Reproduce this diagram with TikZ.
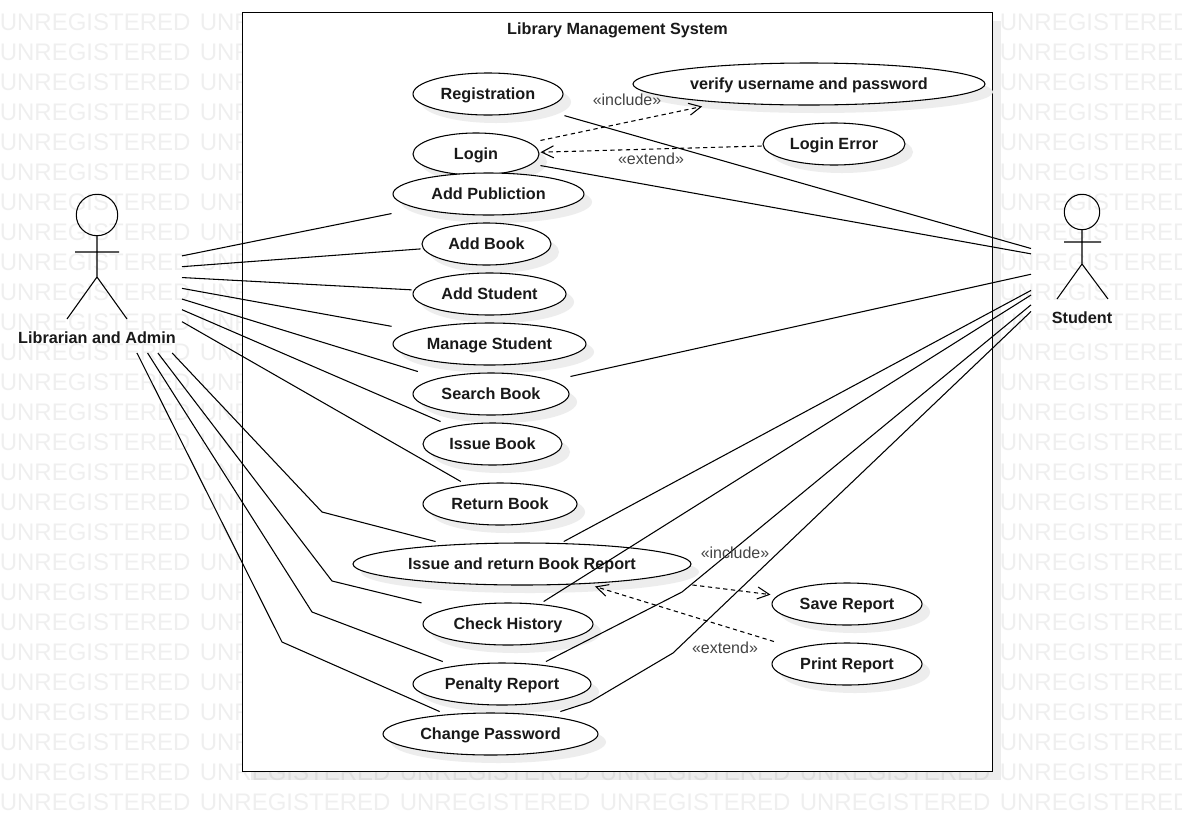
\documentclass[tikz,border=0pt]{standalone}
\usepackage{fontspec}
\setmainfont{Liberation Sans}
\usetikzlibrary{arrows.meta,shadows}
\definecolor{wmgray}{HTML}{EFEFEF}
\definecolor{shadegray}{HTML}{EDEDED}
\definecolor{lblgray}{HTML}{444444}
\makeatletter
% ellipse drawn inside a rectangular border: connectors stop at the bounding box
\pgfdeclareshape{usecase}{
  \inheritsavedanchors[from=rectangle]
  \inheritanchorborder[from=rectangle]
  \inheritanchor[from=rectangle]{center}
  \inheritanchor[from=rectangle]{north}
  \inheritanchor[from=rectangle]{south}
  \inheritanchor[from=rectangle]{west}
  \inheritanchor[from=rectangle]{east}
  \backgroundpath{
    \southwest \pgf@xa=\pgf@x \pgf@ya=\pgf@y
    \northeast \pgf@xb=\pgf@x \pgf@yb=\pgf@y
    \edef\ucA{\the\dimexpr(\pgf@xb-\pgf@xa)/2-1.1pt\relax}
    \edef\ucB{\the\dimexpr(\pgf@yb-\pgf@ya)/2-1.1pt\relax}
    \edef\ucX{\the\dimexpr(\pgf@xb+\pgf@xa)/2\relax}
    \edef\ucY{\the\dimexpr(\pgf@yb+\pgf@ya)/2\relax}
    \pgfpathellipse{\pgfqpoint{\ucX}{\ucY}}{\pgfqpoint{\ucA}{0pt}}{\pgfqpoint{0pt}{\ucB}}
  }
}
\makeatother
\tikzset{
  x=0.75pt,y=-0.75pt,
  wire/.style={line width=0.8pt,black},
  uc/.style 2 args={shape=usecase,draw=black,fill=white,line width=0.8pt,
    minimum width=#1*0.75pt,minimum height=#2*0.75pt,inner sep=0pt,outer sep=1.1pt,
    text height=10pt,text depth=2.5pt,
    font=\fontsize{12.15pt}{14pt}\selectfont\bfseries,text=black!90,
    general shadow={fill=shadegray,shadow xshift=6pt,shadow yshift=-6pt}},
  sysbox/.style={draw=black,fill=white,line width=0.8pt,minimum width=750*0.75pt,minimum height=759*0.75pt,
    inner sep=0pt,outer sep=0pt,general shadow={fill=black,fill opacity=0.07,shadow xshift=6pt,shadow yshift=-6pt}},
  actorbox/.style 2 args={minimum width=#1*0.75pt,minimum height=#2*0.75pt,inner sep=0pt,outer sep=0pt},
  name label/.style={font=\fontsize{12.15pt}{14pt}\selectfont\bfseries,text=black!90,inner sep=0pt,
    text height=10pt,text depth=2.5pt},
  rel label/.style={font=\fontsize{12pt}{14pt}\selectfont,text=lblgray,inner sep=0pt},
  dep/.style={line width=0.8pt,black,dash pattern=on 3.2pt off 2.6pt,
    -{Straight Barb[length=9pt,width=9pt,line width=0.8pt]}},
  wmark/.style={font=\fontsize{18pt}{20pt}\selectfont,text=wmgray,inner sep=0pt,anchor=base west},
}
\begin{document}
\begin{tikzpicture}
\useasboundingbox (0,0) rectangle (1182,822);
% watermark
\begin{scope}
  \clip (0,0) rectangle (1182,822);
  \foreach \c in {0,...,5}{
    \foreach \r in {0,...,26}{
      \node[wmark] (wm\c-\r) at ({-0.5+200*\c},{30+30*\r}) {UNREGISTERED};
    }
  }
\end{scope}
% system boundary
\node[sysbox] (sys) at (617.5,392) {};
\node[name label] (systitle) at (617.5,29) {Library Management System};
% use cases
\node[uc={150}{42}]  (reg)   at (488,94)    {Registration};
\node[uc={352}{42}]  (verify) at (809,84)   {verify username and password};
\node[uc={126}{42}]  (login) at (476,154)   {Login};
\node[uc={142}{42}]  (lerr)  at (834,144)   {Login Error};
\node[uc={191}{42}]  (addpub) at (488.5,194) {Add Publiction};
\node[uc={129}{42}]  (addbook) at (486.5,244) {Add Book};
\node[uc={153}{42}]  (addstu) at (489.5,294) {Add Student};
\node[uc={193}{42}]  (mgstu) at (489.5,344) {Manage Student};
\node[uc={156}{42}]  (search) at (491,394)  {Search Book};
\node[uc={139}{42}]  (issue) at (492.5,444) {Issue Book};
\node[uc={154}{42}]  (ret)   at (500,504)   {Return Book};
\node[uc={338}{42}]  (irrep) at (522,564)   {Issue and return Book Report};
\node[uc={170}{42}]  (hist)  at (508,624)   {Check History};
\node[uc={178}{42}]  (pen)   at (502,684)   {Penalty Report};
\node[uc={215}{42}]  (chpw)  at (490.5,734) {Change Password};
\node[uc={150}{42}]  (save)  at (847,604)   {Save Report};
\node[uc={150}{42}]  (print) at (847,664)   {Print Report};
% actors
\node[actorbox={170}{160}] (lib) at (97,273) {};
\draw[wire] (97,215) circle (20.7);
\draw[wire] (97,236) -- (97,277) (75,252) -- (119,252) (67,319) -- (97,277) -- (127,319);
\node[name label] (libname) at (97,338.5) {Librarian and Admin};
\node[actorbox={102}{140}] (stu) at (1082,263) {};
\draw[wire] (1082,212) circle (17.7);
\draw[wire] (1082,229) -- (1082,264) (1064,242) -- (1101,242) (1057,299) -- (1082,264) -- (1108,299);
\node[name label] (stuname) at (1082,318.5) {Student};
% bend points
\coordinate (b1) at (322,512);
\coordinate (b2) at (332,581);
\coordinate (b3) at (312,612);
\coordinate (b4) at (282,642);
\coordinate (b5) at (682,592);
\coordinate (b6) at (590,702);
\coordinate (b7) at (673,653);
% librarian associations
\draw[wire] (lib) -- (addpub);
\draw[wire] (lib) -- (addbook);
\draw[wire] (lib) -- (addstu);
\draw[wire] (lib) -- (mgstu);
\draw[wire] (lib) -- (search);
\draw[wire] (lib) -- (issue);
\draw[wire] (lib) -- (ret);
\draw[wire] (lib) -- (b1) -- (irrep);
\draw[wire] (lib) -- (b2) -- (hist);
\draw[wire] (lib) -- (b3) -- (pen);
\draw[wire] (lib) -- (b4) -- (chpw);
% student associations
\draw[wire] (reg) -- (stu);
\draw[wire] (login) -- (stu);
\draw[wire] (search) -- (stu);
\draw[wire] (irrep) -- (stu);
\draw[wire] (hist) -- (stu);
\draw[wire] (pen) -- (b5) -- (stu);
\draw[wire] (chpw) -- (b6) -- (b7) -- (stu);
% dependencies
\draw[dep] (login) -- (verify);
\draw[dep] (lerr) -- (login);
\draw[dep] (irrep) -- (save);
\draw[dep] (print) -- (irrep);
\node[rel label] (inc1) at (627,100) {«include»};
\node[rel label] (ext1) at (651,159) {«extend»};
\node[rel label] (inc2) at (735,553) {«include»};
\node[rel label] (ext2) at (725,648) {«extend»};
\end{tikzpicture}
\end{document}
